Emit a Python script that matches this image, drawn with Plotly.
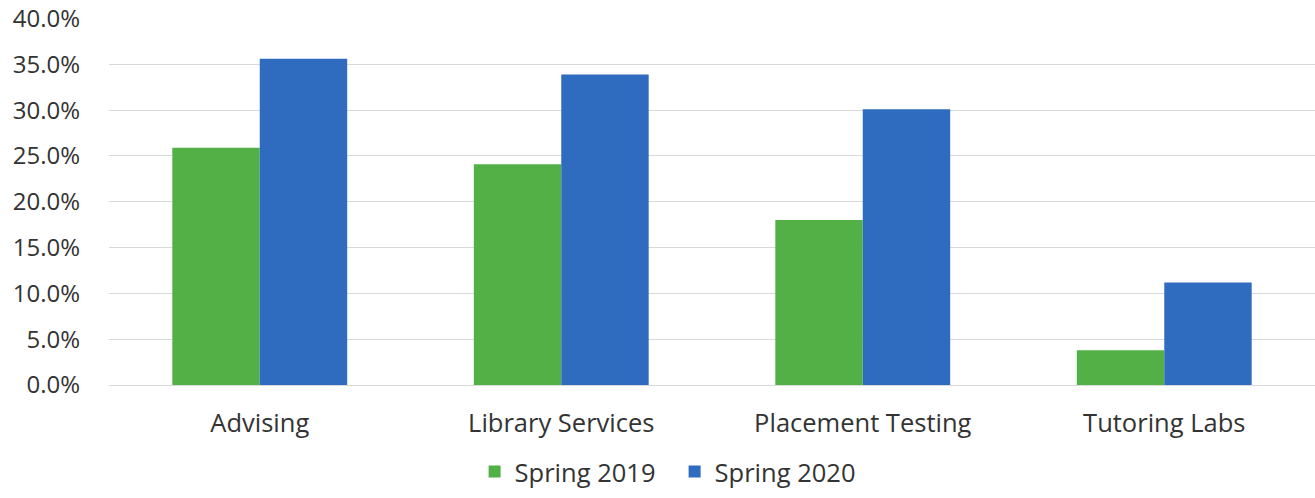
import plotly.graph_objects as go

categories = ["Advising", "Library Services", "Placement Testing", "Tutoring Labs"]
spring_2019 = [0.259, 0.241, 0.180, 0.038]
spring_2020 = [0.356, 0.339, 0.301, 0.112]
y_ticks = [0, 0.05, 0.10, 0.15, 0.20, 0.25, 0.30, 0.35, 0.40]

fig = go.Figure()
fig.add_trace(go.Bar(x=categories, y=spring_2019, name="Spring 2019",
                     marker=dict(color="#52b046", line=dict(width=0))))
fig.add_trace(go.Bar(x=categories, y=spring_2020, name="Spring 2020",
                     marker=dict(color="#2f6cbf", line=dict(width=0))))

fs = 25.5
fig.update_layout(
    width=1315, height=498,
    margin=dict(l=109, r=0, t=18, b=113),
    paper_bgcolor="white", plot_bgcolor="white",
    barmode="group", bargap=0.42, bargroupgap=0,
    font=dict(family="Open Sans, Liberation Sans, sans-serif", size=fs, color="#333333"),
    legend=dict(orientation="h", x=0.469, xanchor="center", y=-0.237, yanchor="middle",
                font=dict(size=fs), itemwidth=30, traceorder="normal",
                entrywidth=155, entrywidthmode="pixels"),
    xaxis=dict(showline=False, ticks="", tickfont=dict(size=fs), automargin=False,
               ticklabelstandoff=20),
    yaxis=dict(range=[0, 0.4006], tickvals=y_ticks, tickformat=".1%",
               showgrid=True, gridcolor="#d9d9d9", gridwidth=1,
               zeroline=True, zerolinecolor="#d9d9d9", zerolinewidth=1,
               ticks="", ticklabelstandoff=28, tickfont=dict(size=24), automargin=False,
               ticklabeloverflow="allow"),
)

fig.write_html("out.html", config={"displayModeBar": False},
               post_script="document.body.style.margin='0';")
